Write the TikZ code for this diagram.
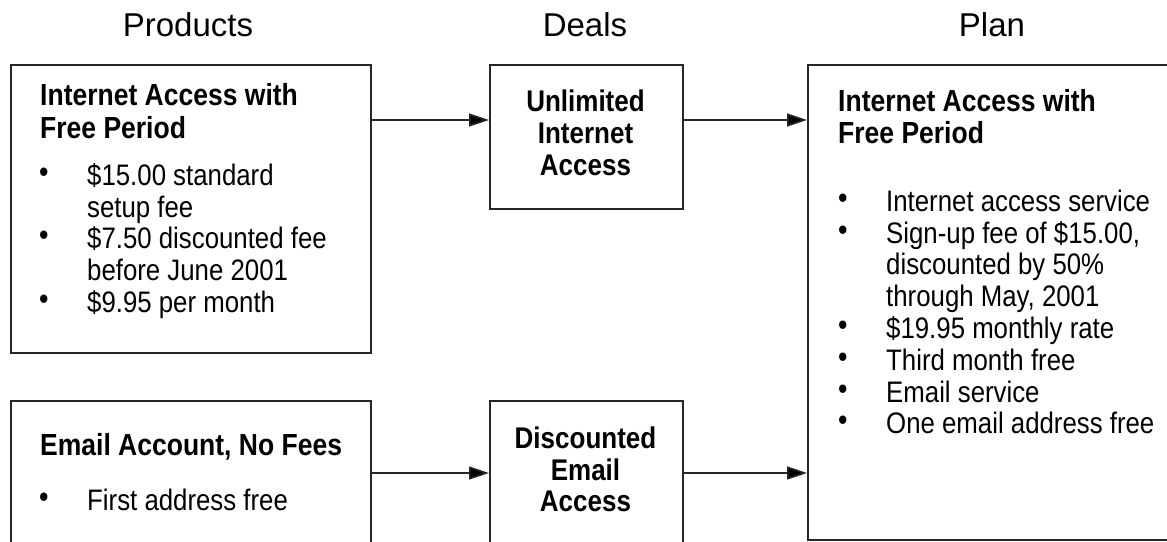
\documentclass[tikz,border=0pt]{standalone}
\usepackage{fontspec}
\usepackage{graphicx}
\setmainfont{Liberation Sans}
\usetikzlibrary{arrows.meta}
\newcommand\bul{\makebox[47pt][l]{\hspace{-1pt}\raisebox{2pt}{\fontsize{27}{27}\selectfont\textbullet}}}
\newcommand\tx[1]{\scalebox{1}[1.15]{#1}}
\tikzset{
  box/.style={draw=black!85, line width=1.6pt, inner sep=0pt, anchor=north west},
  arr/.style={draw=black!85, line width=1.6pt, -{Triangle[length=20pt,width=13pt,fill=black]}},
  hdr/.style={anchor=base, inner sep=0pt, font=\fontsize{33}{38}\selectfont},
  ttl/.style={anchor=base west, inner sep=0pt, font=\bfseries\fontsize{26.5}{32}\selectfont},
  dtl/.style={anchor=base, inner sep=0pt, font=\bfseries\fontsize{26}{32}\selectfont},
  item/.style={anchor=base west, inner sep=0pt, font=\fontsize{25.8}{30}\selectfont},
}
\begin{document}
\begin{tikzpicture}[x=1pt,y=-1pt]
\path[use as bounding box] (0,0) rectangle (1167,541);
\clip (0,0) rectangle (1167,541);
\fill[white] (0,0) rectangle (1167,541);

% headers
\node[hdr] (h1) at (188,36) {Products};
\node[hdr] (h2) at (585,36) {Deals};
\node[hdr] (h3) at (992,36) {Plan};

% boxes
\node[box, minimum width=360pt, minimum height=288pt] (prod1) at (10,64) {};
\node[box, minimum width=360pt, minimum height=220pt] (prod2) at (10,400) {};
\node[box, minimum width=193pt, minimum height=144pt] (deal1) at (489,64) {};
\node[box, minimum width=193pt, minimum height=220pt] (deal2) at (489,400) {};
\node[box, minimum width=400pt, minimum height=475pt] (plan) at (807,64) {};

% arrows
\draw[arr] ([yshift=-56pt]prod1.north east) -- ([yshift=-56pt]deal1.north west);
\draw[arr] ([yshift=-56pt]deal1.north east) -- ([yshift=-56pt]plan.north west);
\draw[arr] ([yshift=-73pt]prod2.north east) -- ([yshift=-73pt]deal2.north west);
\draw[arr] ([yshift=-73pt]deal2.north east) -- ([yshift=-409pt]plan.north west);

% product 1
\node[ttl] (p1a) at (40,105) {\tx{Internet Access with}};
\node[ttl] (p1b) at (40,138) {\tx{Free Period}};
\node[item] (p1c) at (40,185) {\tx{\bul\$15.00 standard}};
\node[item] (p1d) at (87,217) {\tx{setup fee}};
\node[item] (p1e) at (40,248) {\tx{\bul\$7.50 discounted fee}};
\node[item] (p1f) at (87,280) {\tx{before June 2001}};
\node[item] (p1g) at (40,312) {\tx{\bul\$9.95 per month}};

% product 2
\node[ttl] (p2a) at (40,455) {\tx{Email Account, No Fees}};
\node[item] (p2b) at (40,510) {\tx{\bul First address free}};

% deal 1
\node[dtl] (d1a) at (585.5,111) {\tx{Unlimited}};
\node[dtl] (d1b) at (585.5,143) {\tx{Internet}};
\node[dtl] (d1c) at (585.5,175) {\tx{Access}};

% deal 2
\node[dtl] (d2a) at (585.5,448) {\tx{Discounted}};
\node[dtl] (d2b) at (585.5,480) {\tx{Email}};
\node[dtl] (d2c) at (585.5,511) {\tx{Access}};

% plan
\node[ttl] (pla) at (838,111) {\tx{Internet Access with}};
\node[ttl] (plb) at (838,143) {\tx{Free Period}};
\node[item] (plc) at (839,211) {\tx{\bul Internet access service}};
\node[item] (pld) at (839,243) {\tx{\bul Sign-up fee of \$15.00,}};
\node[item] (ple) at (886,274) {\tx{discounted by 50\%}};
\node[item] (plf) at (886,306) {\tx{through May, 2001}};
\node[item] (plg) at (839,338) {\tx{\bul\$19.95 monthly rate}};
\node[item] (plh) at (839,370) {\tx{\bul Third month free}};
\node[item] (pli) at (839,402) {\tx{\bul Email service}};
\node[item] (plj) at (839,433) {\tx{\bul One email address free}};
\end{tikzpicture}
\end{document}
